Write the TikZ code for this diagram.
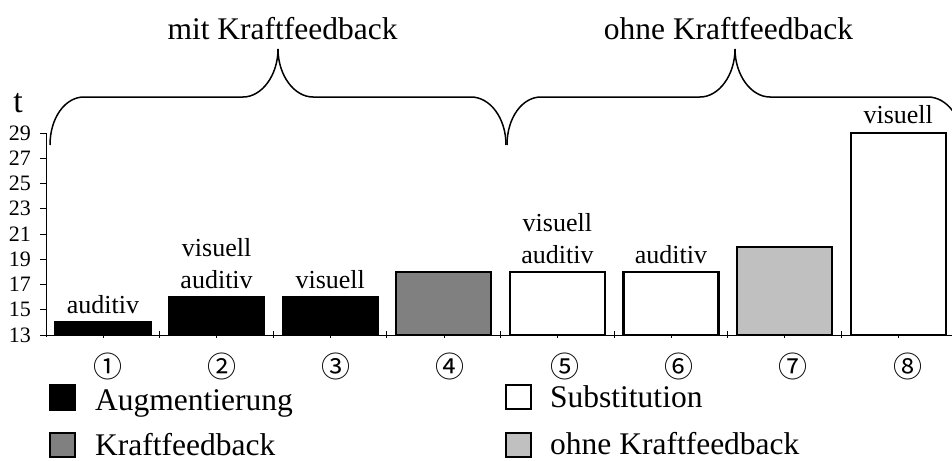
\documentclass[tikz,border=0pt]{standalone}
\usepackage{fontspec}
\setmainfont{Liberation Serif}
\newfontfamily\circfont{Noto Sans CJK JP}
\definecolor{kfgray}{HTML}{808080}
\definecolor{ohnegray}{HTML}{C0C0C0}
\begin{document}
\begin{tikzpicture}[x=1pt,y=-1pt,
  declare function={yv(\v)=335-(\v-13)*12.625;},
  barbox/.style={draw=black, line width=2.2pt},
  barlabel/.style={font=\fontsize{26}{32}\selectfont, align=center, anchor=south, inner sep=0pt, text depth=0pt},
  ticklabel/.style={font=\fontsize{22}{22}\selectfont, anchor=east, inner sep=0pt},
  bigtext/.style={font=\fontsize{31.5}{32}\selectfont, anchor=base west, inner sep=0pt},
  headtext/.style={font=\fontsize{31.5}{32}\selectfont, anchor=base, inner sep=0pt},
  legbox/.style={draw=black, line width=1.6pt},
  brace/.style={draw=black, line width=1.5pt},
  axisline/.style={draw=black, line width=0.9pt},
  circnum/.style={font=\circfont\fontsize{29}{29}\selectfont, inner sep=0pt}
]
\useasboundingbox (0,0) rectangle (952,460);
\clip (0,0) rectangle (952,460);

% group headings and braces
\node[headtext] (hmit) at (282.5,40) {mit Kraftfeedback};
\node[headtext] (hohne) at (728.5,40) {ohne Kraftfeedback};
\draw[brace] (50,145) .. controls (50,118) and (65,97) .. (84,97) -- (243,97)
  .. controls (262,97) and (278,75) .. (278,49)
  .. controls (278,75) and (294,97) .. (313,97) -- (471,97)
  .. controls (490,97) and (506,118) .. (506,145);
\draw[brace, xshift=457pt] (50,145) .. controls (50,118) and (65,97) .. (84,97) -- (243,97)
  .. controls (262,97) and (278,75) .. (278,49)
  .. controls (278,75) and (294,97) .. (313,97) -- (471,97)
  .. controls (490,97) and (506,118) .. (506,145);

% bars
\foreach \i/\v/\c in {0/14/black,1/16/black,2/16/black,3/18/kfgray,4/18/white,5/18/white,6/20/ohnegray,7/29/white}
  \draw[barbox, fill=\c] ({55.5+113.6*\i},335) rectangle ({150.5+113.6*\i},{yv(\v)});

% axes
\draw[axisline] (46,{yv(29)}) -- (46,337);
\draw[axisline] (46,335) -- (952,335);
\foreach \v in {13,15,...,29} {
  \draw[axisline] (40,{yv(\v)}) -- (46,{yv(\v)});
  \node[ticklabel] (y\v) at (31,{yv(\v)}) {\v};
}
\foreach \i in {1,...,8}
  \draw[axisline] ({46+113.6*\i},331) -- ({46+113.6*\i},338);
\foreach \i in {0,...,7}
  \draw[axisline, line width=0.6pt] ({103+113.6*\i},335) -- ({103+113.6*\i},338);
\node[font=\fontsize{34}{34}\selectfont, inner sep=0pt, anchor=base] (tlab) at (18,112) {t};

% labels above bars
\node[barlabel] (l1) at (103,{yv(14)-9}) {auditiv};
\node[barlabel] (l2) at (216.6,{yv(16)-8}) {visuell\\auditiv};
\node[barlabel] (l3) at (330.2,{yv(16)-8}) {visuell};
\node[barlabel] (l5) at (557.4,{yv(18)-8}) {visuell\\auditiv};
\node[barlabel] (l6) at (671,{yv(18)-8}) {auditiv};
\node[barlabel] (l8) at (898.2,{yv(29)-9}) {visuell};

% circled category numbers
\foreach \i/\n in {0/①,1/②,2/③,3/④,4/⑤,5/⑥,6/⑦,7/⑧}
  \node[circnum] (c\i) at ({107.5+114.3*\i},366) {\n};

% legend
\draw[legbox, fill=black] (50,385) rectangle (75,410);
\node[bigtext] (lg1) at (95,410) {Augmentierung};
\draw[legbox, fill=kfgray] (50,433) rectangle (75,457);
\node[bigtext] (lg2) at (95,455) {Kraftfeedback};
\draw[legbox, fill=white] (506,385) rectangle (531,409);
\node[bigtext] (lg3) at (550,407) {Substitution};
\draw[legbox, fill=ohnegray] (506,433) rectangle (531,457);
\node[bigtext] (lg4) at (550,454) {ohne Kraftfeedback};
\end{tikzpicture}
\end{document}
